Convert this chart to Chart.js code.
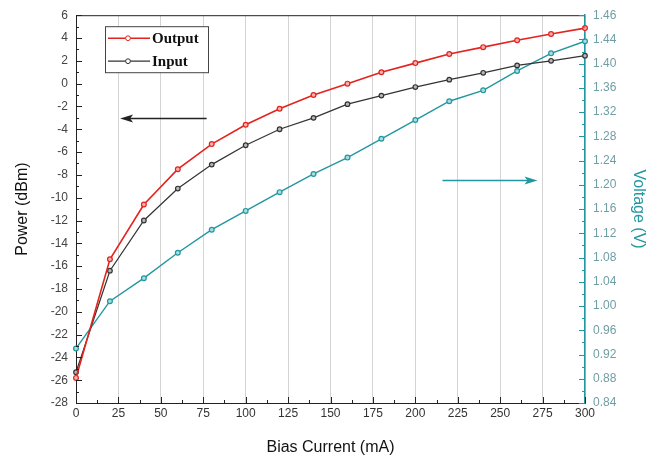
<!DOCTYPE html>
<html>
<head>
<meta charset="utf-8">
<title>Bias Current</title>
<script src="https://cdn.jsdelivr.net/npm/chart.js@4/dist/chart.umd.min.js"></script>
<style>
    html, body { margin: 0; padding: 0; background: #fff; }
    #wrap { width: 661px; height: 465px; }
</style>
</head>
<body>
<div id="wrap"><canvas id="chart" width="661" height="465"></canvas></div>
<script>
// ── Data ──────────────────────────────────────────────
const biasCurrent = [0, 20, 40, 60, 80, 100, 120, 140, 160, 180, 200, 220, 240, 260, 280, 300];
const outputPower = [-25.8, -15.4, -10.6, -7.5, -5.3, -3.6, -2.2, -1.0, 0.0, 1.0, 1.8, 2.6, 3.2, 3.8, 4.35, 4.87];
const inputPower  = [-25.3, -16.4, -12.0, -9.2, -7.1, -5.4, -4.0, -3.0, -1.8, -1.05, -0.3, 0.35, 0.95, 1.6, 2.0, 2.45];
const voltage     = [0.93, 1.008, 1.046, 1.088, 1.126, 1.157, 1.188, 1.218, 1.245, 1.276, 1.307, 1.338, 1.356, 1.388, 1.417, 1.437];

const voltageTickValues = [0.84, 0.88, 0.92, 0.96, 1.00, 1.04, 1.08, 1.12, 1.16, 1.20, 1.24, 1.28, 1.32, 1.36, 1.40, 1.44, 1.48];
const voltageTickLabels = ['0.84', '0.88', '0.92', '0.96', '1.00', '1.04', '1.08', '1.12', '1.16', '1.20',
                           '1.24', '1.28', '1.32', '1.36', '1.40', '1.44', '1.46'];

// arrows telling which axis a curve belongs to (in data units)
const powerArrow   = { axis: 'y',  fromX: 77,  toX: 26,  y: -3.05 };
const voltageArrow = { axis: 'y1', fromX: 216, toX: 272, y: 1.207 };

const RED   = '#e3231d';
const BLACK = '#333333';
const TEAL  = '#22979f';

const toPoints = values => biasCurrent.map((c, i) => ({ x: c, y: values[i] }));

// ── Plugins ───────────────────────────────────────────
// inward major/minor ticks + top frame line
const frameTicks = {
    id: 'frameTicks',
    afterDraw(chart) {
        const { ctx, chartArea: a, scales } = chart;
        ctx.save();
        ctx.lineWidth = 1;

        ctx.strokeStyle = '#222';
        ctx.beginPath();
        ctx.moveTo(a.left, a.top + 0.5);
        ctx.lineTo(a.right, a.top + 0.5);
        ctx.stroke();

        const drawTicks = (scale, color, dir) => {
            const vals = scale.ticks.map(t => t.value);
            ctx.strokeStyle = color;
            ctx.beginPath();
            vals.forEach((v, i) => {
                const marks = [[v, 6]];
                if (i < vals.length - 1) marks.push([(v + vals[i + 1]) / 2, 3]);
                marks.forEach(([mv, len]) => {
                    const p = Math.round(scale.getPixelForValue(mv)) + 0.5;
                    if (dir === 'up') {
                        ctx.moveTo(p, a.bottom); ctx.lineTo(p, a.bottom - len);
                    } else if (dir === 'right') {
                        ctx.moveTo(a.left, p); ctx.lineTo(a.left + len, p);
                    } else {
                        ctx.moveTo(a.right, p); ctx.lineTo(a.right - len, p);
                    }
                });
            });
            ctx.stroke();
        };
        drawTicks(scales.x, '#222', 'up');
        drawTicks(scales.y, '#222', 'right');
        drawTicks(scales.y1, TEAL, 'left');
        ctx.restore();
    }
};

const axisArrows = {
    id: 'axisArrows',
    afterDatasetsDraw(chart) {
        const { ctx, scales } = chart;
        const draw = (arr, color) => {
            const ys = scales[arr.axis];
            const y = ys.getPixelForValue(arr.y);
            const x0 = scales.x.getPixelForValue(arr.fromX);
            const x1 = scales.x.getPixelForValue(arr.toX);
            const dir = Math.sign(x1 - x0);
            ctx.save();
            ctx.strokeStyle = color;
            ctx.fillStyle = color;
            ctx.lineWidth = 1.5;
            ctx.beginPath();
            ctx.moveTo(x0, y);
            ctx.lineTo(x1 - dir * 8, y);
            ctx.stroke();
            ctx.beginPath();
            ctx.moveTo(x1, y);
            ctx.lineTo(x1 - dir * 13, y - 4);
            ctx.lineTo(x1 - dir * 10, y);
            ctx.lineTo(x1 - dir * 13, y + 4);
            ctx.closePath();
            ctx.fill();
            ctx.restore();
        };
        draw(powerArrow, '#222');
        draw(voltageArrow, TEAL);
    }
};

// boxed legend inside the plot, drawn from the first two datasets
const boxLegend = {
    id: 'boxLegend',
    afterDraw(chart) {
        const { ctx, chartArea: a } = chart;
        const x = a.left + 29, y = a.top + 11, w = 103, h = 46;
        ctx.save();
        ctx.fillStyle = '#fff';
        ctx.fillRect(x, y, w, h);
        ctx.strokeStyle = '#444';
        ctx.lineWidth = 1;
        ctx.strokeRect(x + 0.5, y + 0.5, w, h);
        ctx.font = 'bold 15px "Liberation Serif"';
        ctx.textBaseline = 'middle';
        chart.data.datasets.slice(0, 2).forEach((ds, i) => {
            const ly = y + 12 + i * 23;
            ctx.strokeStyle = ds.borderColor;
            ctx.lineWidth = ds.borderWidth;
            ctx.beginPath();
            ctx.moveTo(x + 3, ly);
            ctx.lineTo(x + 45, ly);
            ctx.stroke();
            ctx.lineWidth = 1;
            ctx.fillStyle = '#fff';
            ctx.beginPath();
            ctx.arc(x + 23, ly, 2.4, 0, Math.PI * 2);
            ctx.fill();
            ctx.stroke();
            ctx.fillStyle = '#111';
            ctx.fillText(ds.label, x + 47, ly + 1);
        });
        ctx.restore();
    }
};

// ── Chart ─────────────────────────────────────────────
const tickFont = { family: '"Liberation Sans", Arial', size: 12 };
const titleFont = { family: '"Liberation Sans", Arial', size: 16 };

new Chart(document.getElementById('chart'), {
    type: 'line',
    data: {
        datasets: [
            {
                label: 'Output',
                data: toPoints(outputPower),
                borderColor: RED, backgroundColor: '#f6b0ad', pointBorderWidth: 1.2,
                borderWidth: 1.6, pointRadius: 2.4, yAxisID: 'y', clip: false,
            },
            {
                label: 'Input',
                data: toPoints(inputPower),
                borderColor: BLACK, backgroundColor: '#b8b8b8', pointBorderWidth: 1.2,
                borderWidth: 1.2, pointRadius: 2.3, yAxisID: 'y', clip: false,
            },
            {
                label: 'Voltage',
                data: toPoints(voltage),
                borderColor: TEAL, backgroundColor: '#a9dde0', pointBorderWidth: 1.2,
                borderWidth: 1.4, pointRadius: 2.4, yAxisID: 'y1', clip: false,
            },
        ],
    },
    options: {
        responsive: false,
        animation: false,
        layout: { padding: { top: 13, left: 0, right: 0, bottom: 0 } },
        plugins: { legend: { display: false }, tooltip: { enabled: false } },
        scales: {
            x: {
                type: 'linear', min: 0, max: 300,
                ticks: { stepSize: 25, color: '#333', font: tickFont, padding: 3, maxRotation: 0 },
                grid: { color: '#d4d4d4', drawTicks: false },
                border: { color: '#222', width: 1 },
                title: { display: true, text: 'Bias Current (mA)', color: '#111', font: titleFont, padding: { bottom: 8 } },
                afterFit: s => { s.height = 62; },
            },
            y: {
                position: 'left', min: -28, max: 6,
                ticks: { stepSize: 2, color: '#444', font: tickFont, padding: 8 },
                grid: { display: false, drawTicks: false },
                border: { color: '#222', width: 1 },
                title: { display: true, text: 'Power (dBm)', color: '#111', font: titleFont, padding: { top: 13 } },
                afterFit: s => { s.width = 76; },
            },
            y1: {
                position: 'right', min: 0.84, max: 1.48,
                afterBuildTicks: s => { s.ticks = voltageTickValues.map(v => ({ value: v })); },
                ticks: {
                    color: '#6f9ea4', font: tickFont, padding: 8,
                    callback: (v, i) => voltageTickLabels[i],
                },
                grid: { display: false, drawTicks: false },
                border: { color: TEAL, width: 1.5 },
                title: { display: true, text: 'Voltage (V)', color: TEAL, font: titleFont, padding: { top: 13 } },
                afterFit: s => { s.width = 76; },
            },
        },
    },
    plugins: [frameTicks, axisArrows, boxLegend],
});
</script>
</body>
</html>
